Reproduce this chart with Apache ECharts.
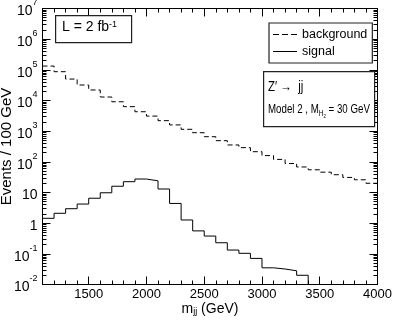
<!DOCTYPE html>
<html>
<head>
<meta charset="utf-8">
<script src="https://cdn.jsdelivr.net/npm/echarts@6/dist/echarts.min.js"></script>
<style>
html,body{margin:0;padding:0;background:#fff;}
#chart{width:393px;height:322px;}
</style>
</head>
<body>
<div id="chart"></div>
<script>
// ---- data (bin lower edges in GeV, events / 100 GeV) ----
const bgBins = [1100,1200,1300,1400,1500,1600,1700,1800,1900,2000,2100,2200,2300,2400,2500,2600,2700,2800,2900,3000,3100,3200,3300,3400,3500,3600,3700,3800,3900];
const bgValues = [1.33e5,8.7e4,5.0e4,3.2e4,2.2e4,1.3e4,9.1e3,6.3e3,4.3e3,3.1e3,2.2e3,1.6e3,1.15e3,890,660,490,355,290,214,160,120,88,68,55,46,38,31,26,20];
const sigBins = [1100,1200,1300,1400,1500,1600,1700,1800,1900,2000,2100,2200,2300,2400,2500,2600,2700,2800,2900,3000,3100,3200,3300];
const sigValues = [1.44,2.1,2.96,4.2,6.5,9.8,16,22.5,27.5,24,13,4.4,1.27,0.56,0.38,0.23,0.133,0.104,0.071,0.035,0.032,0.028,0.020];
const binWidth = 100;
const xMin = 1100, xMax = 4000;
const xTickLabels = [1500,2000,2500,3000,3500,4000];
const yMin = 0.01, yMax = 1e7;
const yTickValues = [0.01,0.1,1,10,100,1e3,1e4,1e5,1e6,1e7];
const seriesNames = ['background','signal'];

// minor log ticks 2..9 per decade
const yMinorTicks = [];
for (let d = -2; d < 7; d++) for (let k = 2; k <= 9; k++) yMinorTicks.push(+(k * Math.pow(10, d)).toPrecision(3));

function stepData(bins, vals, closeTo) {
  const pts = bins.map((x, i) => [x, vals[i]]);
  const last = bins[bins.length - 1] + binWidth;
  pts.push([last, closeTo === undefined ? vals[vals.length - 1] : closeTo]);
  return pts;
}

const black = '#000';
const font = 'Liberation Sans, Arial, sans-serif';
const lineStyle = {color: black, width: 1};

function yLabel(v) {
  const e = Math.round(Math.log10(v));
  if (e === 0) return '{b|1}';
  if (e === 1) return '{b|10}';
  return '{b|10}{s|' + e + '}';
}
const yRich = {
  b: {fontSize: 14, fontFamily: font, color: black, lineHeight: 20, verticalAlign: 'bottom'},
  s: {fontSize: 9, fontFamily: font, color: black, lineHeight: 10, verticalAlign: 'top'}
};

const commonX = {type: 'value', min: xMin, max: xMax, splitLine: {show: false}, gridIndex: 0};
const commonY = {type: 'log', logBase: 10, min: yMin, max: yMax, splitLine: {show: false}, gridIndex: 0};

const chart = echarts.init(document.getElementById('chart'), null, {renderer: 'canvas'});
chart.setOption({
  backgroundColor: '#fff',
  animation: false,
  grid: {left: 42.5, top: 8.5, width: 335, height: 276, outerBoundsMode: 'none', containLabel: false},
  xAxis: [
    Object.assign({}, commonX, {
      position: 'bottom', interval: binWidth,
      axisLine: {show: true, lineStyle: lineStyle},
      axisTick: {show: true, inside: true, length: 4, lineStyle: lineStyle},
      axisLabel: {show: true, customValues: xTickLabels, formatter: v => String(v), fontSize: 13, fontFamily: font, color: black, margin: 3},
      name: 'm{sub|jj} (GeV)', nameLocation: 'middle', nameGap: 18, nameMoveOverlap: false,
      nameTextStyle: {fontSize: 14, fontFamily: font, color: black,
        rich: {sub: {fontSize: 9, fontFamily: font, color: black, verticalAlign: 'bottom', lineHeight: 10, padding: [10, 0, 0, 0]}}}
    }),
    Object.assign({}, commonX, {
      position: 'bottom',
      axisLine: {show: false},
      axisTick: {show: true, inside: true, length: 8, customValues: xTickLabels, lineStyle: lineStyle},
      axisLabel: {show: false}
    }),
    Object.assign({}, commonX, {
      position: 'top', interval: binWidth,
      axisLine: {show: true, lineStyle: lineStyle},
      axisTick: {show: true, inside: true, length: 4, lineStyle: lineStyle},
      axisLabel: {show: false}
    }),
    Object.assign({}, commonX, {
      position: 'top',
      axisLine: {show: false},
      axisTick: {show: true, inside: true, length: 8, customValues: xTickLabels, lineStyle: lineStyle},
      axisLabel: {show: false}
    })
  ],
  yAxis: [
    Object.assign({}, commonY, {
      position: 'left',
      axisLine: {show: true, lineStyle: lineStyle},
      axisTick: {show: true, inside: true, length: 8, customValues: yTickValues, lineStyle: lineStyle},
      axisLabel: {show: true, customValues: yTickValues, formatter: yLabel, rich: yRich, margin: 5},
      name: 'Events / 100 GeV', nameLocation: 'middle', nameGap: 28, nameRotate: 90, nameMoveOverlap: false,
      nameTextStyle: {fontSize: 15, fontFamily: font, color: black}
    }),
    Object.assign({}, commonY, {
      position: 'left',
      axisLine: {show: false},
      axisTick: {show: true, inside: true, length: 4, customValues: yMinorTicks, lineStyle: lineStyle},
      axisLabel: {show: false}
    }),
    Object.assign({}, commonY, {
      position: 'right',
      axisLine: {show: true, lineStyle: lineStyle},
      axisTick: {show: true, inside: true, length: 8, customValues: yTickValues, lineStyle: lineStyle},
      axisLabel: {show: false}
    }),
    Object.assign({}, commonY, {
      position: 'right',
      axisLine: {show: false},
      axisTick: {show: true, inside: true, length: 4, customValues: yMinorTicks, lineStyle: lineStyle},
      axisLabel: {show: false}
    })
  ],
  legend: {
    data: [
      {name: seriesNames[0], icon: 'path://M0 0H6V1H0ZM9 0H15V1H9ZM18 0H24V1H18Z'},
      {name: seriesNames[1], icon: 'path://M0 0H24V1H0Z'}
    ],
    orient: 'vertical', left: 269, top: 23,
    backgroundColor: '#fff', borderColor: '#222', borderWidth: 1.2,
    padding: [5, 5, 5, 4], itemGap: 4, itemWidth: 24, itemHeight: 1,
    textStyle: {fontSize: 12.5, fontFamily: font, color: black},
    selectedMode: false
  },
  series: [
    {
      name: seriesNames[0], type: 'line', step: 'end', xAxisIndex: 0, yAxisIndex: 0,
      symbol: 'none', data: stepData(bgBins, bgValues),
      lineStyle: {color: black, width: 1, type: [5, 3]}, itemStyle: {color: black}
    },
    {
      name: seriesNames[1], type: 'line', step: 'end', xAxisIndex: 0, yAxisIndex: 0,
      symbol: 'none', data: stepData(sigBins, sigValues, yMin),
      lineStyle: {color: black, width: 1}, itemStyle: {color: black}
    }
  ],
  graphic: [
    {type: 'rect', left: 55, top: 15, shape: {width: 76, height: 27}, style: {fill: '#fff', stroke: '#222', lineWidth: 1.2}, z: 10},
    {type: 'text', left: 62, top: 20, z: 11,
      style: {text: 'L = 2 fb{s|-1}', fontSize: 14, fontFamily: font, fill: black,
        rich: {s: {fontSize: 9, fontFamily: font, fill: black, verticalAlign: 'top', lineHeight: 10}}}},
    {type: 'rect', left: 263, top: 71, shape: {width: 111, height: 55}, style: {fill: '#fff', stroke: '#222', lineWidth: 1.2}, z: 10},
    {type: 'text', x: 268, y: 80, scaleX: 0.82, z: 11,
      style: {text: 'Z\u2032 \u2192  jj', fontSize: 14, fontFamily: font, fill: black, align: 'left', verticalAlign: 'top'}},
    {type: 'text', x: 268, y: 100, scaleX: 0.72, z: 11,
      style: {text: 'Model 2 , M{sub|H}{sub2|2} = 30 GeV', fontSize: 13.5, fontFamily: font, fill: black, align: 'left', verticalAlign: 'top',
        rich: {
          sub: {fontSize: 9, fontFamily: font, fill: black, padding: [8, 0, 0, 0]},
          sub2: {fontSize: 6, fontFamily: font, fill: black, padding: [13, 0, 0, 0]}
        }}}
  ]
});
</script>
</body>
</html>
